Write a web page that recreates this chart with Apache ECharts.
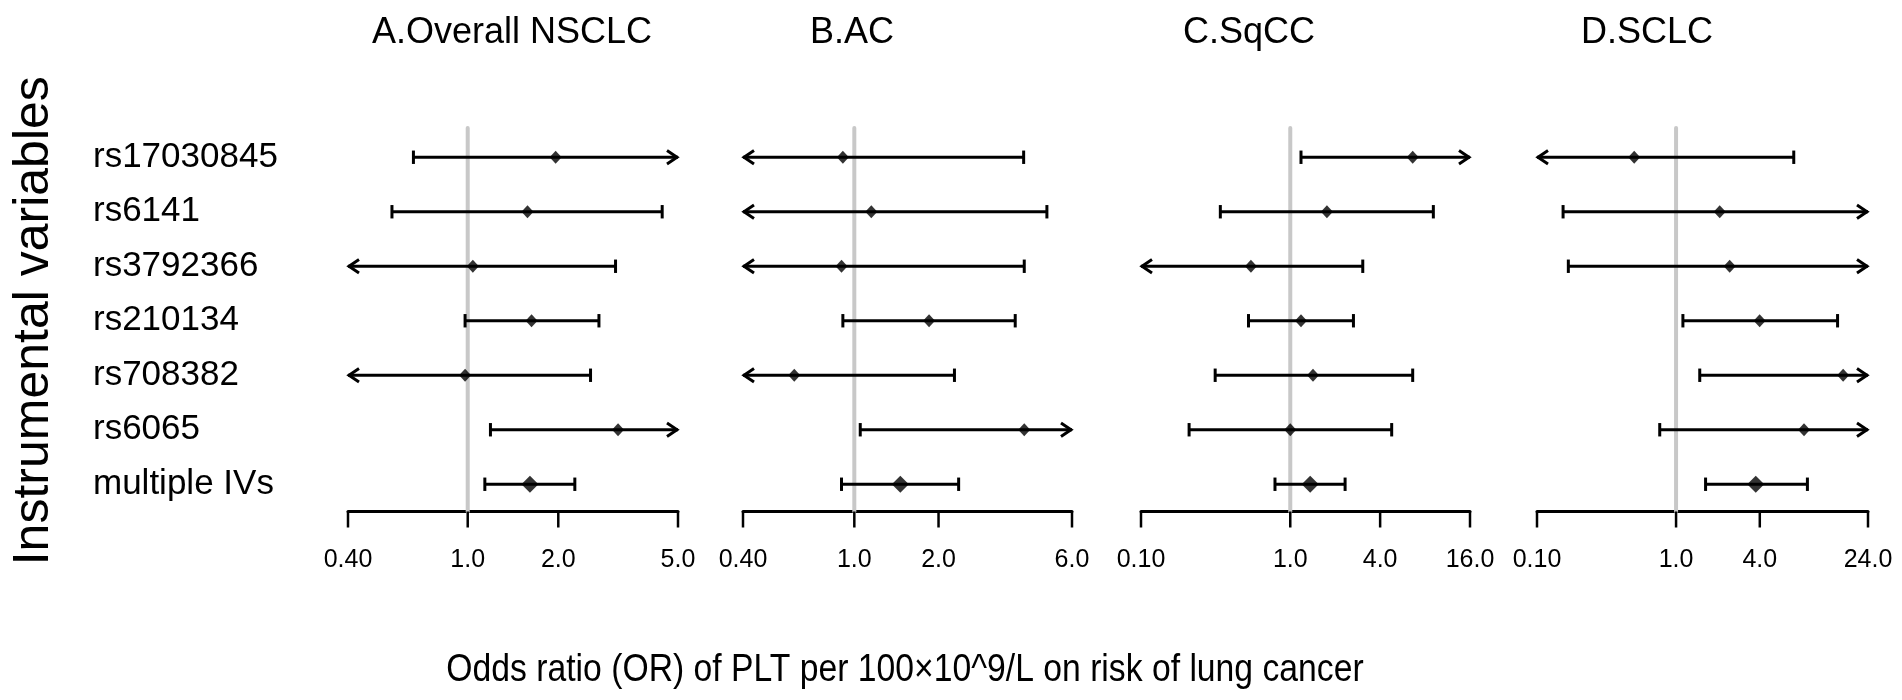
<!DOCTYPE html>
<html>
<head>
<meta charset="utf-8">
<script src="https://cdn.jsdelivr.net/npm/echarts@6/dist/echarts.min.js"></script>
<style>
html,body{margin:0;padding:0;background:#fff;}
#chart{width:1902px;height:700px;}
</style>
</head>
<body>
<div id="chart"></div>
<script>
// ---------- data ----------
const categories = ['rs17030845', 'rs6141', 'rs3792366', 'rs210134', 'rs708382', 'rs6065', 'multiple IVs'];
const panelTitles = ['A.Overall NSCLC', 'B.AC', 'C.SqCC', 'D.SCLC'];

// null = confidence limit lies beyond the axis (drawn as an arrow)
const orA = [1.96, 1.58, 1.04, 1.63, 0.98, 3.16, 1.61];
const loA = [0.66, 0.56, null, 0.98, null, 1.19, 1.14];
const hiA = [null, 4.43, 3.10, 2.73, 2.56, null, 2.27];

const orB = [0.91, 1.15, 0.90, 1.85, 0.61, 4.05, 1.46];
const loB = [null, null, null, 0.91, null, 1.05, 0.90];
const hiB = [4.03, 4.88, 4.05, 3.76, 2.28, null, 2.36];

const orC = [6.61, 1.76, 0.545, 1.18, 1.42, 1.00, 1.36];
const loC = [1.18, 0.34, null, 0.525, 0.314, 0.21, 0.79];
const hiC = [null, 9.09, 3.06, 2.65, 6.61, 4.78, 2.33];

const orD = [0.50, 2.06, 2.43, 3.99, 15.9, 8.32, 3.74];
const loD = [null, 0.154, 0.168, 1.12, 1.48, 0.763, 1.63];
const hiD = [7.02, null, null, 14.5, null, null, 8.8];

const ticksA = [0.4, 1, 2, 5];
const ticksB = [0.4, 1, 2, 6];
const ticksC = [0.1, 1, 4, 16];
const ticksD = [0.1, 1, 4, 24];
const tickLabelsA = ['0.40', '1.0', '2.0', '5.0'];
const tickLabelsB = ['0.40', '1.0', '2.0', '6.0'];
const tickLabelsC = ['0.10', '1.0', '4.0', '16.0'];
const tickLabelsD = ['0.10', '1.0', '4.0', '24.0'];

const yTitle = 'Instrumental variables';
const xTitle = 'Odds ratio (OR) of PLT per 100×10^9/L on risk of lung cancer';

// ---------- layout ----------
const FONT = '"Liberation Sans", Arial, Helvetica, sans-serif';
const panels = [
  {or: orA, lo: loA, hi: hiA, ticks: ticksA, labels: tickLabelsA, left: 348, width: 330, titleX: 512},
  {or: orB, lo: loB, hi: hiB, ticks: ticksB, labels: tickLabelsB, left: 743, width: 329, titleX: 852},
  {or: orC, lo: loC, hi: hiC, ticks: ticksC, labels: tickLabelsC, left: 1141, width: 329, titleX: 1249},
  {or: orD, lo: loD, hi: hiD, ticks: ticksD, labels: tickLabelsD, left: 1537, width: 331, titleX: 1647}
];
const GRID_TOP = 130, GRID_H = 381.5;

const grid = [], xAxis = [], yAxis = [], series = [], graphic = [];

panels.forEach((p, k) => {
  grid.push({left: p.left, top: GRID_TOP, width: p.width, height: GRID_H,
    containLabel: false, outerBoundsMode: 'none'});
  xAxis.push({
    type: 'log', gridIndex: k, logBase: 10,
    min: p.ticks[0], max: p.ticks[p.ticks.length - 1],
    axisLine: {show: true, lineStyle: {color: '#000', width: 3}},
    axisTick: {show: false}, axisLabel: {show: false}, splitLine: {show: false}
  });
  const y = {
    type: 'category', gridIndex: k, data: categories, inverse: true, boundaryGap: true,
    axisLine: {show: false}, axisTick: {show: false}, splitLine: {show: false},
    axisLabel: {show: false}
  };
  if (k === 0) {
    y.axisLabel = {show: true, align: 'left', margin: 255, color: '#000', fontSize: 35, fontFamily: FONT};
    y.name = yTitle;
    y.nameLocation = 'middle';
    y.nameRotate = 90;
    y.nameGap = 289;
    y.nameTextStyle = {fontSize: 50, color: '#000', fontFamily: FONT};
  }
  yAxis.push(y);

  // reference line at OR = 1
  series.push({
    type: 'custom', xAxisIndex: k, yAxisIndex: k, z: 1, silent: true,
    data: [[1, 0]], encode: {x: 0, y: 1},
    renderItem: function (params, api) {
      const cs = params.coordSys;
      const x = api.coord([api.value(0), 0])[0];
      return {type: 'line', shape: {x1: x, y1: cs.y - 2, x2: x, y2: cs.y + cs.height},
        style: {stroke: '#c8c8c8', lineWidth: 4, lineCap: 'round'}};
    }
  });

  // confidence intervals
  series.push({
    type: 'custom', xAxisIndex: k, yAxisIndex: k, z: 3, silent: true,
    data: p.or.map((v, i) => [v, i]), encode: {x: 0, y: 1},
    renderItem: function (params, api) {
      const i = params.dataIndex;
      const cs = params.coordSys;
      const yc = api.coord([p.or[i], i])[1];
      const lo = p.lo[i], hi = p.hi[i];
      const xl = lo == null ? cs.x : api.coord([lo, i])[0];
      const xh = hi == null ? cs.x + cs.width : api.coord([hi, i])[0];
      const st = {stroke: '#000', lineWidth: 3, fill: null};
      const kids = [{type: 'line', shape: {x1: xl, y1: yc, x2: xh, y2: yc}, style: st}];
      const capH = 6.7, aw = 11;
      if (lo == null) {
        kids.push({type: 'polyline', shape: {points: [[xl + aw, yc - capH], [xl + 1, yc], [xl + aw, yc + capH]]}, style: st});
      } else {
        kids.push({type: 'line', shape: {x1: xl, y1: yc - capH, x2: xl, y2: yc + capH}, style: st});
      }
      if (hi == null) {
        kids.push({type: 'polyline', shape: {points: [[xh - aw, yc - capH], [xh - 1, yc], [xh - aw, yc + capH]]}, style: st});
      } else {
        kids.push({type: 'line', shape: {x1: xh, y1: yc - capH, x2: xh, y2: yc + capH}, style: st});
      }
      return {type: 'group', children: kids};
    }
  });

  // point estimates
  series.push({
    type: 'scatter', xAxisIndex: k, yAxisIndex: k, z: 4, silent: true,
    symbol: 'diamond',
    symbolSize: function (val, params) { return params.dataIndex === categories.length - 1 ? [17, 17] : [12, 13]; },
    itemStyle: {color: '#000'},
    data: p.or.map((v, i) => [v, i])
  });

  // axis ticks and tick labels
  series.push({
    type: 'custom', xAxisIndex: k, yAxisIndex: k, z: 2, silent: true,
    data: p.ticks.map((v, i) => [v, 0]), encode: {x: 0, y: 1},
    renderItem: function (params, api) {
      const cs = params.coordSys;
      const x = api.coord([api.value(0), 0])[0];
      const yb = cs.y + cs.height;
      return {type: 'group', children: [
        {type: 'line', shape: {x1: x, y1: yb, x2: x, y2: yb + 16}, style: {stroke: '#000', lineWidth: 2.5}},
        {type: 'text', x: x, y: yb + 49, style: {text: p.labels[params.dataIndex], fill: '#000',
          font: '25px ' + FONT, textAlign: 'center', textVerticalAlign: 'middle'}}
      ]};
    }
  });

  graphic.push({type: 'text', x: p.titleX, y: 33, silent: true,
    style: {text: panelTitles[k], fill: '#000', font: '36px ' + FONT, textAlign: 'center', textVerticalAlign: 'middle'}});
});

graphic.push({type: 'text', x: 905, y: 671, scaleX: 0.887, silent: true,
  style: {text: xTitle, fill: '#000', font: '38px ' + FONT, textAlign: 'center', textVerticalAlign: 'middle'}});

const chart = echarts.init(document.getElementById('chart'), null, {renderer: 'canvas'});
chart.setOption({
  animation: false,
  backgroundColor: '#fff',
  grid: grid, xAxis: xAxis, yAxis: yAxis, series: series, graphic: graphic
});
</script>
</body>
</html>
